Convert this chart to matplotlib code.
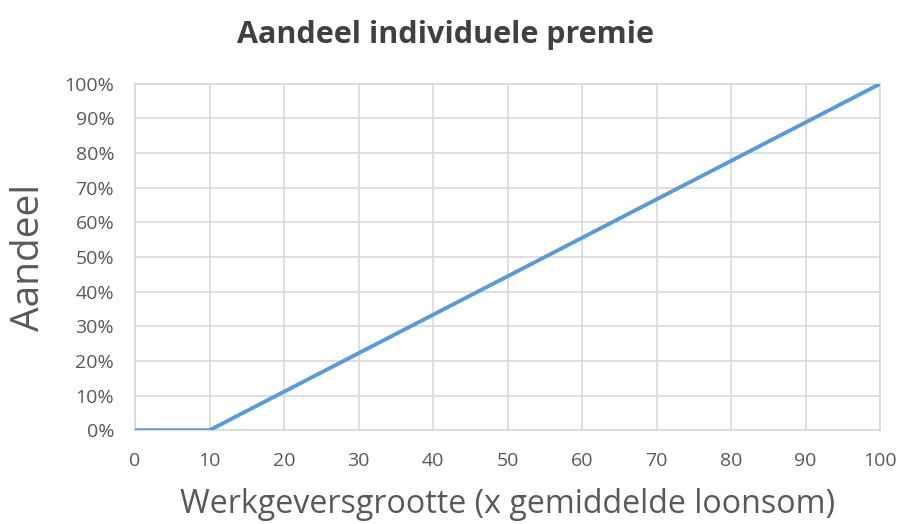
import matplotlib
matplotlib.use("Agg")
import matplotlib.pyplot as plt
from matplotlib.ticker import PercentFormatter

plt.rcParams['font.family'] = ['Open Sans', 'DejaVu Sans']

# data
size = [0, 10, 100]
share = [0.0, 0.0, 1.0]
x_ticks = list(range(0, 101, 10))
y_ticks = [i / 10 for i in range(11)]

fig = plt.figure(figsize=(9, 5.24), dpi=100)
ax = fig.add_axes([0.15, 0.179, 0.828, 0.661])

ax.plot(size, share, color="#5B9BD5", linewidth=2.8, solid_capstyle="butt", zorder=3)

ax.set_xlim(0, 100)
ax.set_ylim(0, 1)
ax.set_xticks(x_ticks)
ax.set_yticks(y_ticks)
ax.yaxis.set_major_formatter(PercentFormatter(1.0, decimals=0))
ax.grid(True, color="#D9D9D9", linewidth=1.2)
ax.set_axisbelow(True)
for s in ax.spines.values():
    s.set_color("#D9D9D9")
    s.set_linewidth(1.2)
ax.tick_params(length=0, labelsize=14, labelcolor="#595959")
ax.tick_params(axis="x", pad=16)
ax.tick_params(axis="y", pad=15)

fig.text(0.495, 0.933, "Aandeel individuele premie", fontsize=22, fontweight="bold",
         color="#404040", ha="center", va="center")
ax.set_ylabel("Aandeel", fontsize=28, color="#595959", labelpad=12)
ax.set_xlabel("Werkgeversgrootte (x gemiddelde loonsom)", fontsize=23.2,
              color="#595959", labelpad=13)

fig.savefig("out.png", dpi=100)
